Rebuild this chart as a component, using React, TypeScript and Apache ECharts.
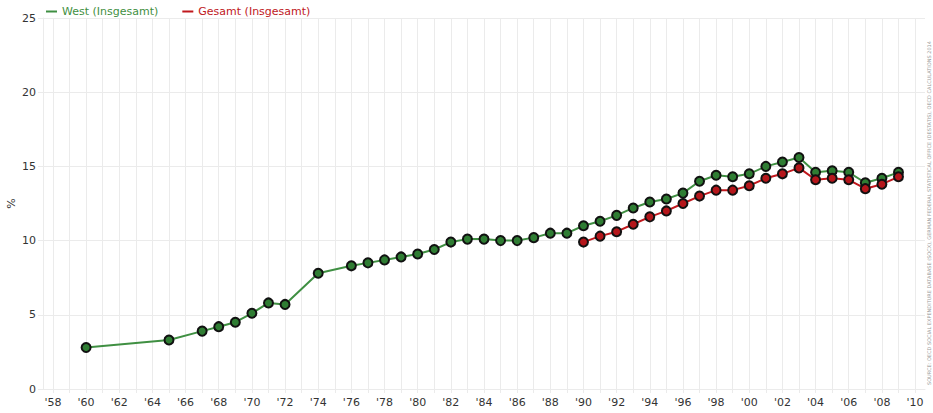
import React, { useEffect, useRef } from "react";
import * as echarts from "echarts";

const westYears = [1960, 1965, 1967, 1968, 1969, 1970, 1971, 1972, 1974, 1976, 1977, 1978, 1979, 1980, 1981, 1982, 1983, 1984, 1985, 1986, 1987, 1988, 1989, 1990, 1991, 1992, 1993, 1994, 1995, 1996, 1997, 1998, 1999, 2000, 2001, 2002, 2003, 2004, 2005, 2006, 2007, 2008, 2009];
const westValues = [2.8, 3.3, 3.9, 4.2, 4.5, 5.1, 5.8, 5.7, 7.8, 8.3, 8.5, 8.7, 8.9, 9.1, 9.4, 9.9, 10.1, 10.1, 10.0, 10.0, 10.2, 10.5, 10.5, 11.0, 11.3, 11.7, 12.2, 12.6, 12.8, 13.2, 14.0, 14.4, 14.3, 14.5, 15.0, 15.3, 15.6, 14.6, 14.7, 14.6, 13.9, 14.2, 14.6];

const gesamtYears = [1990, 1991, 1992, 1993, 1994, 1995, 1996, 1997, 1998, 1999, 2000, 2001, 2002, 2003, 2004, 2005, 2006, 2007, 2008, 2009];
const gesamtValues = [9.9, 10.3, 10.6, 11.1, 11.6, 12.0, 12.5, 13.0, 13.4, 13.4, 13.7, 14.2, 14.5, 14.9, 14.1, 14.2, 14.1, 13.5, 13.8, 14.3];

const tickYears: number[] = [];
for (let y = 1958; y <= 2010; y++) tickYears.push(y);
const labelYears = tickYears.filter((y) => y % 2 === 0);

const seriesNames = ["West (Insgesamt)", "Gesamt (Insgesamt)"];
const sourceText =
  "SOURCE: OECD SOCIAL EXPENDITURE DATABASE (SOCX), GERMAN FEDERAL STATISTICAL OFFICE (DESTATIS), OECD CALCULATIONS 2014";

const GREEN = "#3f8f42";
const RED = "#c0181d";
const FONT = "DejaVu Sans";

export default function App() {
  const ref = useRef<HTMLDivElement>(null);
  useEffect(() => {
    if (!ref.current) return;
    const chart = echarts.init(ref.current, undefined, { renderer: "svg" });
    const grid = "#ebebeb";
    chart.setOption({
      animation: false,
      backgroundColor: "#ffffff",
      textStyle: { fontFamily: FONT },
      grid: { left: 43, right: 8, top: 18, bottom: 24, containLabel: false, outerBoundsMode: "none" },
      legend: {
        left: 41,
        top: 1,
        itemWidth: 11,
        itemHeight: 2,
        itemGap: 24,
        icon: "rect",
        itemStyle: { borderWidth: 0 },
        data: [
          { name: seriesNames[0], textStyle: { color: GREEN }, itemStyle: { color: GREEN, borderWidth: 0 } },
          { name: seriesNames[1], textStyle: { color: RED }, itemStyle: { color: RED, borderWidth: 0 } },
        ],
        textStyle: { fontSize: 11, fontFamily: FONT },
      },
      xAxis: {
        type: "value",
        min: 1957.4,
        max: 2010.6,
        axisLine: { show: true, lineStyle: { color: grid } },
        axisTick: { show: true, length: 4, lineStyle: { color: grid }, customValues: tickYears },
        axisLabel: {
          customValues: labelYears,
          color: "#333",
          fontSize: 11,
          fontFamily: FONT,
          margin: 8,
          formatter: (v: number) => "'" + String(Math.round(v)).slice(2),
        },
        splitLine: { show: true, lineStyle: { color: grid } },
      },
      yAxis: {
        type: "value",
        min: 0,
        max: 25,
        interval: 5,
        name: "%",
        nameLocation: "middle",
        nameGap: 26,
        nameRotate: 90,
        nameMoveOverlap: false,
        nameTextStyle: { color: "#333", fontSize: 11, fontFamily: FONT },
        axisLine: { show: true, lineStyle: { color: grid } },
        axisTick: { show: true, length: 5, lineStyle: { color: grid } },
        axisLabel: { color: "#333", fontSize: 11, fontFamily: FONT, margin: 7 },
        splitLine: { show: true, lineStyle: { color: grid } },
      },
      series: [
        {
          name: seriesNames[0],
          type: "line",
          data: westYears.map((y, i) => [y, westValues[i]]),
          color: GREEN,
          lineStyle: { color: GREEN, width: 2 },
          symbol: "circle",
          symbolSize: 9,
          itemStyle: { color: "#2f7d33", borderColor: "#111", borderWidth: 2 },
        },
        {
          name: seriesNames[1],
          type: "line",
          data: gesamtYears.map((y, i) => [y, gesamtValues[i]]),
          color: RED,
          lineStyle: { color: RED, width: 2 },
          symbol: "circle",
          symbolSize: 9,
          itemStyle: { color: "#b5161b", borderColor: "#111", borderWidth: 2 },
        },
      ],
      graphic: [
        {
          type: "text",
          x: 926,
          y: 385,
          rotation: Math.PI / 2,
          style: {
            text: sourceText,
            fontSize: 5,
            fontFamily: FONT,
            fill: "#9a9a9a",
            textAlign: "left",
            textVerticalAlign: "top",
          },
        },
      ],
    });
    return () => chart.dispose();
  }, []);
  return (
    <div
      ref={ref}
      style={{ position: "fixed", left: 0, top: 0, width: 933, height: 413 }}
    />
  );
}
